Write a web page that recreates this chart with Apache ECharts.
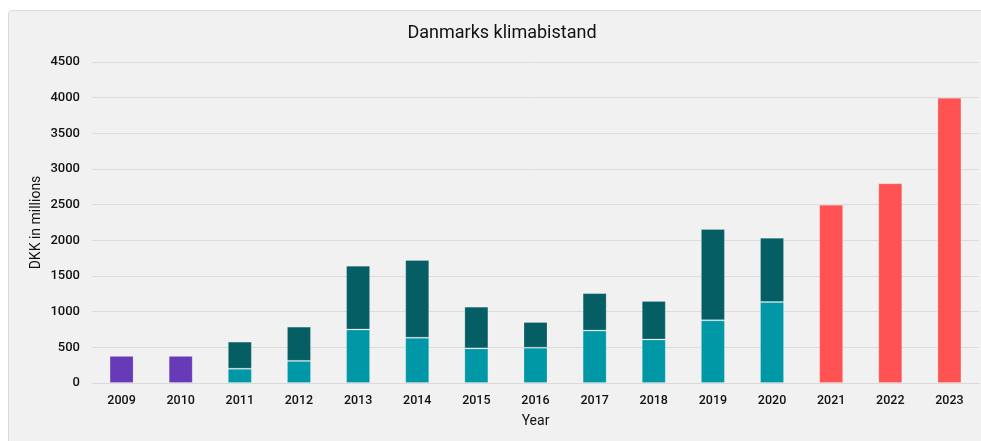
<!DOCTYPE html>
<html>
<head>
<meta charset="utf-8">
<script src="https://cdn.jsdelivr.net/npm/echarts@6/dist/echarts.min.js"></script>
<style>
  html, body { margin: 0; padding: 0; background: #ffffff; overflow: hidden; }
  #chart { width: 981px; height: 441px; }
</style>
</head>
<body>
<div id="chart"></div>
<script>
const years = ['2009','2010','2011','2012','2013','2014','2015','2016','2017','2018','2019','2020','2021','2022','2023'];
const earlyValues = [380, 380, '-', '-', '-', '-', '-', '-', '-', '-', '-', '-', '-', '-', '-'];
const lowerValues = ['-', '-', 200, 310, 750, 635, 485, 495, 735, 610, 880, 1135, '-', '-', '-'];
const upperValues = ['-', '-', 380, 480, 895, 1090, 585, 360, 525, 540, 1280, 900, '-', '-', '-'];
const lateValues = ['-', '-', '-', '-', '-', '-', '-', '-', '-', '-', '-', '-', 2500, 2800, 4000];
const titleText = 'Danmarks klimabistand';

const chart = echarts.init(document.getElementById('chart'), null, { renderer: 'canvas' });
const font = 'Roboto, "Noto Sans", sans-serif';
const border = { borderColor: 'rgba(255,255,255,0.2)', borderWidth: 1 };

function barSeries(name, data, color) {
  return {
    name: name,
    type: 'bar',
    stack: 'all',
    data: data,
    barWidth: 24,
    itemStyle: Object.assign({ color: color }, border),
    emphasis: { disabled: true }
  };
}

chart.setOption({
  animation: false,
  backgroundColor: 'transparent',
  textStyle: { fontFamily: font },
  graphic: [
    {
      type: 'rect', z: -10, silent: true,
      shape: { x: 8.5, y: 10.5, width: 1200, height: 600, r: 3 },
      style: { fill: '#f1f1f1', stroke: '#dcdcdc', lineWidth: 1 }
    },
    {
      type: 'text', silent: true,
      x: 502, y: 33,
      style: { text: titleText, fontFamily: font, fontSize: 18, fill: '#111111', align: 'center', verticalAlign: 'middle' }
    }
  ],
  grid: { left: 92, right: 2, top: 62, bottom: 58, containLabel: false },
  xAxis: {
    type: 'category',
    data: years,
    name: 'Year',
    nameLocation: 'middle',
    nameGap: 31,
    nameMoveOverlap: false,
    nameTextStyle: { fontSize: 14, color: '#111', fontFamily: font },
    axisLine: { lineStyle: { color: '#d9d9d9' } },
    axisTick: { show: false },
    axisLabel: { fontSize: 12.5, color: '#111', fontWeight: 500, margin: 11, fontFamily: font }
  },
  yAxis: {
    type: 'value',
    min: 0, max: 4500, interval: 500,
    name: 'DKK in millions',
    nameLocation: 'middle',
    nameGap: 49,
    nameMoveOverlap: false,
    nameTextStyle: { fontSize: 14, color: '#111', fontFamily: font },
    axisLine: { show: false },
    axisTick: { show: false },
    axisLabel: { fontSize: 13, color: '#111', fontWeight: 500, margin: 12, fontFamily: font, formatter: function (v) { return String(v); } },
    splitLine: { lineStyle: { color: '#dcdcdc', width: 1 } }
  },
  series: [
    barSeries('2009-2010', earlyValues, '#673ab7'),
    barSeries('Lower', lowerValues, '#0097a7'),
    barSeries('Upper', upperValues, '#065e65'),
    barSeries('2021-2023', lateValues, '#ff5252')
  ]
});
</script>
</body>
</html>
